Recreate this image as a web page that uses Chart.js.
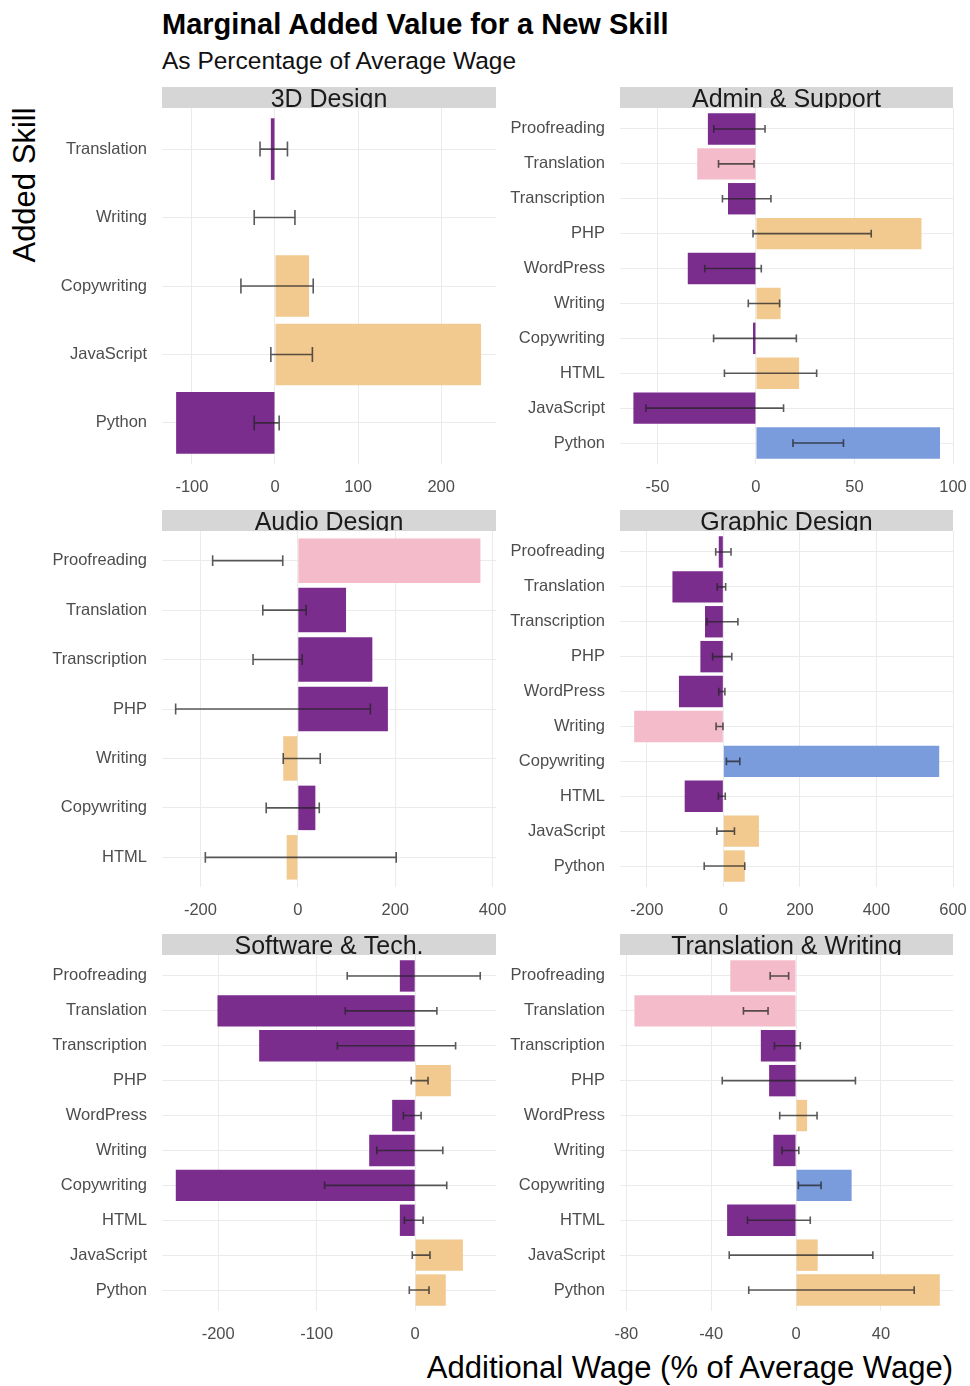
<!DOCTYPE html>
<html>
<head>
<meta charset="utf-8">
<script src="https://cdn.jsdelivr.net/npm/chart.js@4"></script>
<style>
  body { margin: 0; background: #fff; font-family: "Liberation Sans", Arial, sans-serif; }
  #page { position: relative; width: 970px; height: 1386px; overflow: hidden; }
  .txt { position: absolute; white-space: nowrap; color: #000; }
  #title { left: 162px; top: 10px; font-size: 29px; line-height: 29px; font-weight: bold; }
  #subtitle { left: 162px; top: 49px; font-size: 24.5px; line-height: 24px; color: #111; }
  #ytitle { left: -75px; top: 170px; width: 200px; text-align: center; font-size: 31px; line-height: 30px; transform: rotate(-90deg); }
  #xtitle { right: 17px; top: 1353px; font-size: 31px; line-height: 30px; }
  canvas { position: absolute; }
</style>
</head>
<body>
<div id="page">
  <div class="txt" id="title">Marginal Added Value for a New Skill</div>
  <div class="txt" id="subtitle">As Percentage of Average Wage</div>
  <div class="txt" id="ytitle">Added Skill</div>
  <div class="txt" id="xtitle">Additional Wage (% of Average Wage)</div>
  <canvas id="c1" width="470" height="420" style="left:500px;top:85px"></canvas>
  <canvas id="c3" width="470" height="420" style="left:500px;top:508px"></canvas>
  <canvas id="c5" width="470" height="420" style="left:500px;top:932px"></canvas>
  <canvas id="c0" width="480" height="420" style="left:30px;top:85px"></canvas>
  <canvas id="c2" width="480" height="420" style="left:30px;top:508px"></canvas>
  <canvas id="c4" width="480" height="420" style="left:30px;top:932px"></canvas>
</div>
<script>
// skills (top to bottom)
const skills10 = ['Proofreading', 'Translation', 'Transcription', 'PHP', 'WordPress',
  'Writing', 'Copywriting', 'HTML', 'JavaScript', 'Python'];
const skills3d = ['Translation', 'Writing', 'Copywriting', 'JavaScript', 'Python'];
const skillsAudio = ['Proofreading', 'Translation', 'Transcription', 'PHP', 'Writing', 'Copywriting', 'HTML'];

// colour group of each bar: 1 purple, 2 orange, 3 pink, 4 blue
const d3Value = [-5, 0, 41, 248, -119];
const d3Low = [-18, -25, -41, -5, -25];
const d3High = [15, 24, 46, 45, 5];
const d3Group = [1, 2, 2, 2, 1];
const d3Ticks = [-100, 0, 100, 200];

const adminValue = [-24.4, -29.8, -14.2, 84, -34.6, 12.5, -1.5, 21.9, -62.2, 93.4];
const adminLow = [-21.4, -19, -17, -1.5, -26, -3.9, -21.5, -16, -55.8, 18.8];
const adminHigh = [4.6, -1, 7.6, 58.5, 2.7, 12, 20.5, 30.8, 14, 44.4];
const adminGroup = [1, 3, 1, 2, 1, 2, 1, 2, 1, 4];
const adminTicks = [-50, 0, 50, 100];

const audioValue = [375, 99, 153, 185, -30, 36, -23];
const audioLow = [-175, -72, -92, -251, -30, -65, -190];
const audioHigh = [-31, 17, 9, 149, 46, 44, 202];
const audioGroup = [3, 1, 1, 1, 2, 1, 2];
const audioTicks = [-200, 0, 200, 400];

const graphicValue = [-12, -133, -48, -60, -116, -233, 564, -101, 93, 56];
const graphicLow = [-20, -16, -43, -28, -12, -19, 8, -13, -17, -50];
const graphicHigh = [20, 6, 38, 22, 4, -1, 43, 5, 29, 56];
const graphicGroup = [1, 1, 1, 1, 1, 3, 4, 1, 2, 2];
const graphicTicks = [-200, 0, 200, 400, 600];

const softValue = [-15.6, -200.7, -158.4, 36.2, -23.4, -46.7, -243, -15.6, 48.4, 31];
const softLow = [-69, -71, -79, -4, -12, -39, -92, -11, -3, -6];
const softHigh = [66, 22, 41, 13, 6, 28, 32, 8, 15, 14];
const softGroup = [1, 1, 1, 2, 1, 1, 1, 1, 2, 2];
const softTicks = [-200, -100, 0];

const transValue = [-31, -76.2, -16.6, -12.7, 5.2, -10.7, 26.2, -32.5, 10.2, 67.8];
const transLow = [-12.2, -24.8, -10.2, -34.8, -7.7, -6.6, 1.1, -22.9, -31.5, -22.3];
const transHigh = [-3.5, -13.2, 2, 28, 9.9, 1.3, 11.8, 6.7, 36.2, 55.7];
const transGroup = [3, 3, 1, 1, 2, 1, 4, 1, 2, 2];
const transTicks = [-80, -40, 0, 40];

const groupColors = { 1: '#7b2d8e', 2: '#f2c98f', 3: '#f4bccb', 4: '#7a9bdc' };
const FONT = '"Liberation Sans", Arial, sans-serif';

const panels = [
  { id: 'c0', name: '3D Design', skills: skills3d, value: d3Value, low: d3Low, high: d3High, group: d3Group, ticks: d3Ticks, min: -136, max: 266, yw: 132, pr: 14 },
  { id: 'c1', name: 'Admin & Support', skills: skills10, value: adminValue, low: adminLow, high: adminHigh, group: adminGroup, ticks: adminTicks, min: -69, max: 100, yw: 120, pr: 17 },
  { id: 'c2', name: 'Audio Design', skills: skillsAudio, value: audioValue, low: audioLow, high: audioHigh, group: audioGroup, ticks: audioTicks, min: -279, max: 407, yw: 132, pr: 14 },
  { id: 'c3', name: 'Graphic Design', skills: skills10, value: graphicValue, low: graphicLow, high: graphicHigh, group: graphicGroup, ticks: graphicTicks, min: -270, max: 600, yw: 120, pr: 17 },
  { id: 'c4', name: 'Software & Tech.', skills: skills10, value: softValue, low: softLow, high: softHigh, group: softGroup, ticks: softTicks, min: -257, max: 82, yw: 132, pr: 14 },
  { id: 'c5', name: 'Translation & Writing', skills: skills10, value: transValue, low: transLow, high: transHigh, group: transGroup, ticks: transTicks, min: -83, max: 74, yw: 120, pr: 17 }
];

function panelPlugin(p) {
  return {
    id: 'panel_' + p.id,
    beforeDraw(chart) {
      const ctx = chart.ctx, a = chart.chartArea;
      ctx.save();
      ctx.fillStyle = '#d6d6d6';
      ctx.beginPath();
      ctx.rect(a.left, a.top - 21, a.right - a.left, 21);
      ctx.fill();
      ctx.clip();
      ctx.fillStyle = '#1a1a1a';
      ctx.font = '25px ' + FONT;
      ctx.textAlign = 'center';
      ctx.textBaseline = 'alphabetic';
      ctx.fillText(p.name, (a.left + a.right) / 2, a.top - 1);
      ctx.restore();
    },
    afterDatasetsDraw(chart) {
      const ctx = chart.ctx, x = chart.scales.x, y = chart.scales.y;
      const cap = Math.abs(y.getPixelForValue(1) - y.getPixelForValue(0)) * 0.11;
      ctx.save();
      ctx.strokeStyle = 'rgba(35,35,35,0.75)';
      ctx.lineWidth = 1.6;
      p.low.forEach((lo, i) => {
        const py = y.getPixelForValue(i);
        const x1 = x.getPixelForValue(lo), x2 = x.getPixelForValue(p.high[i]);
        ctx.beginPath();
        ctx.moveTo(x1, py); ctx.lineTo(x2, py);
        ctx.moveTo(x1, py - cap); ctx.lineTo(x1, py + cap);
        ctx.moveTo(x2, py - cap); ctx.lineTo(x2, py + cap);
        ctx.stroke();
      });
      ctx.restore();
    }
  };
}

// keep the plot areas fixed: no extra room for overhanging tick labels
function noOverhang(axis) {
  axis.paddingLeft = 0; axis.paddingRight = 0;
  axis.paddingTop = 0; axis.paddingBottom = 0;
}

panels.forEach(p => {
  new Chart(document.getElementById(p.id), {
    type: 'bar',
    data: {
      datasets: [{
        data: p.value.map((v, i) => ({ x: v, y: i })),
        backgroundColor: p.group.map(g => groupColors[g]),
        borderWidth: 0,
        barPercentage: 0.9,
        categoryPercentage: 1
      }]
    },
    plugins: [panelPlugin(p)],
    options: {
      indexAxis: 'y',
      responsive: false,
      animation: false,
      layout: { padding: { top: 23, right: p.pr, left: 0, bottom: 0 } },
      plugins: { legend: { display: false }, tooltip: { enabled: false } },
      scales: {
        x: {
          type: 'linear',
          min: p.min,
          max: p.max,
          afterBuildTicks: axis => { axis.ticks = p.ticks.map(v => ({ value: v })); },
          afterFit: axis => { axis.height = 41; noOverhang(axis); },
          grid: { color: '#ebebeb', lineWidth: 1, drawTicks: false },
          border: { display: false },
          ticks: { color: '#4d4d4d', font: { family: FONT, size: 16.5 }, padding: 14, maxRotation: 0, autoSkip: false, callback: v => String(v) }
        },
        y: {
          type: 'linear',
          reverse: true,
          offset: false,
          min: -0.6,
          max: p.skills.length - 0.4,
          afterBuildTicks: axis => { axis.ticks = p.skills.map((s, i) => ({ value: i })); },
          afterFit: axis => { axis.width = p.yw; noOverhang(axis); },
          grid: { color: '#ebebeb', lineWidth: 1, drawTicks: false, offset: false },
          border: { display: false },
          ticks: { color: '#4d4d4d', font: { family: FONT, size: 16.5 }, padding: 15, autoSkip: false, callback: v => p.skills[v] }
        }
      }
    }
  });
});
</script>
</body>
</html>
